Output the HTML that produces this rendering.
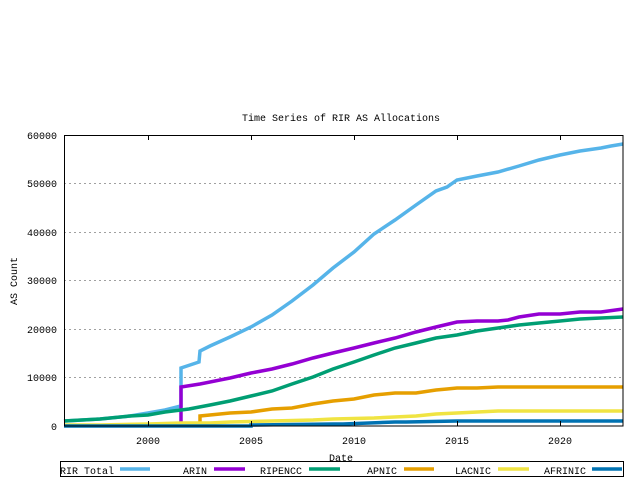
<!DOCTYPE html>
<html><head><meta charset="utf-8"><style>
html,body{margin:0;padding:0;background:#fff;}
svg{display:block;font-family:"Liberation Mono","DejaVu Sans Mono",monospace;font-size:10px;}
</style></head><body>
<svg width="640" height="480" viewBox="0 0 640 480" xmlns="http://www.w3.org/2000/svg">
<rect width="640" height="480" fill="#fff"/>
<text x="341" y="121" text-anchor="middle">Time Series of RIR AS Allocations</text>
<g stroke="#a0a0a0" stroke-dasharray="2,3" stroke-width="1">
<line x1="64" x2="623" y1="183.5" y2="183.5"/>
<line x1="64" x2="623" y1="232.5" y2="232.5"/>
<line x1="64" x2="623" y1="280.5" y2="280.5"/>
<line x1="64" x2="623" y1="329.5" y2="329.5"/>
<line x1="64" x2="623" y1="377.5" y2="377.5"/>
</g>
<g text-anchor="end">
<text x="57" y="139">60000</text><text x="57" y="187">50000</text><text x="57" y="236">40000</text>
<text x="57" y="284">30000</text><text x="57" y="333">20000</text><text x="57" y="381">10000</text><text x="57" y="430">0</text>
</g>
<g text-anchor="middle">
<text x="148" y="444">2000</text><text x="251" y="444">2005</text><text x="354" y="444">2010</text>
<text x="457" y="444">2015</text><text x="560" y="444">2020</text>
<text x="341" y="461">Date</text>
</g>
<text transform="translate(17,281) rotate(-90)" text-anchor="middle">AS Count</text>
<g fill="none" stroke-width="3.5" stroke-linejoin="miter">
<polyline stroke="#56b4e9" points="64,421 100,419 130,416 148,413 165,410 181,406 181,368 190,365 199,362 200,351 210,346 230,337 251,327 272,315 292,301 313,285 333,268 354,252 374,234 395,220 416,205 436,191 447,187 457,180 477,176 498,172 519,166 539,160 560,155 580,151 601,148 611,146 623,144"/>
<polyline stroke="#9400d3" points="181,426 181,387 200,384 230,378 251,373 272,369 292,364 313,358 333,353 354,348 374,343 395,338 416,332 436,327 457,322 477,321 498,321 508,320 519,317 539,314 560,314 570,313 580,312 601,312 623,309"/>
<polyline stroke="#009e73" points="64,421 100,419 130,416 148,415 165,412 189,409 210,405 230,401 251,396 272,391 292,384 313,377 333,369 354,362 374,355 395,348 416,343 436,338 457,335 477,331 498,328 519,325 539,323 560,321 580,319 601,318 623,317"/>
<polyline stroke="#e69f00" points="200,426 200,416 230,413 251,412 272,409 292,408 313,404 333,401 354,399 374,395 395,393 416,393 436,390 447,389 457,388 477,388 498,387 519,387 560,387 623,387"/>
<polyline stroke="#f0e442" points="64,425 100,425 148,424 181,423 210,423 230,422 272,421 313,420 333,419 374,418 416,416 436,414 457,413 498,411 540,411 623,411"/>
<polyline stroke="#0072b2" points="64,426 251,426 251,425 333,424 343,424 395,422 406,422 457,421 500,421 623,421"/>
</g>
<rect x="64.5" y="135.5" width="558.5" height="290.5" fill="none" stroke="#000" stroke-width="1"/>
<g stroke="#000" stroke-width="1">
<line x1="148.5" x2="148.5" y1="426" y2="421"/><line x1="251.5" x2="251.5" y1="426" y2="421"/>
<line x1="354.5" x2="354.5" y1="426" y2="421"/><line x1="457.5" x2="457.5" y1="426" y2="421"/>
<line x1="560.5" x2="560.5" y1="426" y2="421"/>
<line x1="148.5" x2="148.5" y1="135" y2="140"/><line x1="251.5" x2="251.5" y1="135" y2="140"/>
<line x1="354.5" x2="354.5" y1="135" y2="140"/><line x1="457.5" x2="457.5" y1="135" y2="140"/>
<line x1="560.5" x2="560.5" y1="135" y2="140"/>
</g>
<rect x="60.5" y="461.5" width="563" height="15" fill="#fff" stroke="#000" stroke-width="1"/>
<text x="60" y="474">RIR Total</text><line x1="120" x2="150" y1="469" y2="469" stroke="#56b4e9" stroke-width="3.5"/>
<text x="207" y="474" text-anchor="end">ARIN</text><line x1="214" x2="245" y1="469" y2="469" stroke="#9400d3" stroke-width="3.5"/>
<text x="302" y="474" text-anchor="end">RIPENCC</text><line x1="309" x2="340" y1="469" y2="469" stroke="#009e73" stroke-width="3.5"/>
<text x="397" y="474" text-anchor="end">APNIC</text><line x1="404" x2="434" y1="469" y2="469" stroke="#e69f00" stroke-width="3.5"/>
<text x="491" y="474" text-anchor="end">LACNIC</text><line x1="498" x2="529" y1="469" y2="469" stroke="#f0e442" stroke-width="3.5"/>
<text x="586" y="474" text-anchor="end">AFRINIC</text><line x1="592" x2="622" y1="469" y2="469" stroke="#0072b2" stroke-width="3.5"/>
</svg>
</body></html>
